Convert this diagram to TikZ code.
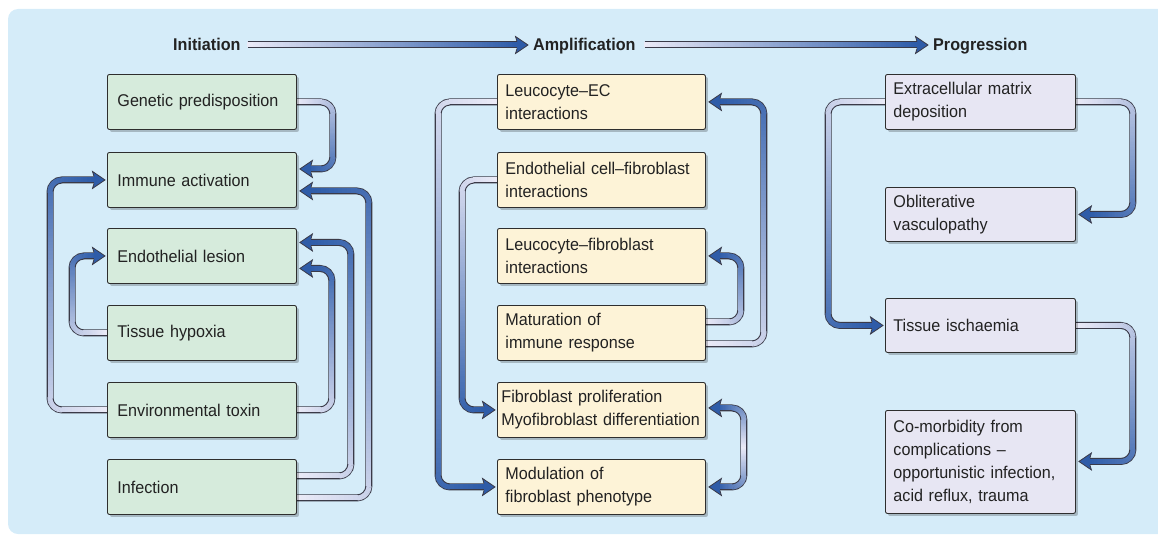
\documentclass[tikz,border=0pt]{standalone}
\usepackage{fontspec}
\setmainfont{Liberation Sans}[FakeStretch=0.95]
\usetikzlibrary{calc,shadows,decorations.markings}
\definecolor{bgblue}{HTML}{D5ECF9}
\definecolor{gfill}{HTML}{D6EBDC}
\definecolor{yfill}{HTML}{FDF3D7}
\definecolor{lfill}{HTML}{E7E6F3}
\definecolor{boxline}{HTML}{2E2E2E}
\definecolor{tubeline}{HTML}{3A3A48}
\definecolor{tubeblue}{HTML}{2B5AA8}
\definecolor{tubepale}{HTML}{EAEAF7}
\definecolor{ahfill}{HTML}{2F5CA8}
\definecolor{txt}{HTML}{222222}
\newcommand\boxfont{\fontsize{17pt}{23pt}\selectfont}
\newcommand\gradseg{%
  \pgfsetcornersarced{\pgfpointorigin}%
  \pgfsetlinewidth{0pt}%
  \pgfsetcolor{tubeblue!\gfr!tubepale}%
  \pgfpathrectangle{\pgfpoint{-0.8pt}{-2.5pt}}{\pgfpoint{1.6pt}{5pt}}%
  \pgfusepath{fill}}
\pgfdeclarelayer{bglayer}
\pgfdeclarelayer{tubelayer}
\pgfsetlayers{bglayer,tubelayer,main}
\tikzset{
  anybox/.style={draw=boxline, line width=0.9pt, rounded corners=2pt, anchor=north west,
    minimum height=55pt, align=left, font=\boxfont, text=txt,
    drop shadow={shadow xshift=2.5pt, shadow yshift=-2.5pt, opacity=0.22, fill=black}},
  gbox/.style={anybox, fill=gfill, inner xsep=10pt, text width=169pt},
  ybox/.style={anybox, fill=yfill, inner xsep=8pt, text width=192pt},
  lbox/.style={anybox, fill=lfill, inner xsep=8pt, text width=174pt},
  hdr/.style={font=\fontsize{17pt}{20pt}\selectfont\bfseries, text=txt, inner sep=0pt,
    text height=12pt, text depth=0pt, anchor=west},
  tube/.style={draw=tubeline, line width=7pt, rounded corners=12pt,
    postaction={decorate, decoration={markings,
      mark=between positions 0 and 1 step 1.2pt with {
        \pgfmathsetmacro\gq{\pgfkeysvalueof{/pgf/decoration/mark info/distance from start}/\pgfdecoratedpathlength}
        \pgfmathtruncatemacro\gfr{max(0,min(100,100*\gq))}
        \gradseg}}}},
  tubesym/.style={draw=tubeline, line width=7pt, rounded corners=12pt,
    postaction={decorate, decoration={markings,
      mark=between positions 0 and 1 step 1.2pt with {
        \pgfmathsetmacro\gq{\pgfkeysvalueof{/pgf/decoration/mark info/distance from start}/\pgfdecoratedpathlength}
        \pgfmathtruncatemacro\gfr{max(0,min(100,100*abs(2*\gq-1)))}
        \gradseg}}}},
  ahead/.pic={
    \fill[ahfill, sharp corners] (0pt,0pt) -- (12.5pt,-8.5pt) -- (11pt,-3.5pt) -- (11pt,3.5pt) -- (12.5pt,8.5pt) -- cycle;
    \draw[tubeline, sharp corners, line width=0.8pt, line join=miter] (11pt,-3.5pt) -- (12.5pt,-8.5pt) -- (0pt,0pt) -- (12.5pt,8.5pt) -- (11pt,3.5pt);
  }
}
\begin{document}
\begin{tikzpicture}[x=1pt,y=-1pt]
\useasboundingbox (0,0) rectangle (1158,535);
\clip (0,0) rectangle (1158,535);
\begin{pgfonlayer}{bglayer}
\fill[bgblue, rounded corners=10pt] (8,9) rectangle (1190,534);
\end{pgfonlayer}

% headers
\node[hdr] (init) at (173,45) {Initiation};
\node[hdr] (ampl) at (533,45) {Amplification};
\node[hdr] (prog) at (933,45) {Progression};

% left column
\node[gbox] (gen)  at (107,74)  {Genetic predisposition};
\node[gbox] (imm)  at (107,152) {Immune activation};
\node[gbox] (endo) at (107,228) {Endothelial lesion};
\node[gbox] (hyp)  at (107,305) {Tissue hypoxia};
\node[gbox] (env)  at (107,382) {Environmental toxin};
\node[gbox] (inf)  at (107,459) {Infection};

% middle column
\node[ybox] (lec) at (497,74)  {Leucocyte–EC\\interactions};
\node[ybox] (ecf) at (497,152) {Endothelial cell–fibroblast\\interactions};
\node[ybox] (lfi) at (497,228) {Leucocyte–fibroblast\\interactions};
\node[ybox] (mat) at (497,305) {Maturation of\\immune response};
\node[ybox, inner xsep=4pt, text width=200pt] (fib) at (497,382) {\mbox{Fibroblast proliferation}\\\mbox{Myofibroblast differentiation}};
\node[ybox] (mod) at (497,459) {Modulation of\\fibroblast phenotype};

% right column
\node[lbox] (ecm) at (885,74)  {Extracellular matrix\\deposition};
\node[lbox, minimum height=54pt] (obl) at (885,187) {Obliterative\\vasculopathy};
\node[lbox, minimum height=54pt] (isc) at (885,298) {Tissue ischaemia};
\node[lbox, minimum height=103pt] (com) at (885,410) {Co-morbidity from\\complications –\\opportunistic infection,\\acid reflux, trauma};

\begin{pgfonlayer}{tubelayer}
% header arrows
\draw[tube] ($(init.east)+(7,0)$) -- ($(ampl.west)+(-13,0)$);
\pic[rotate=180] at ($(ampl.west)+(-5,0)$) {ahead};
\draw[tube] ($(ampl.east)+(9,0)$) -- ($(prog.west)+(-13,0)$);
\pic[rotate=180] at ($(prog.west)+(-5,0)$) {ahead};

% left column connectors
\draw[tube] (gen.east) -| ($(imm.east)+(36,-11)$) -- ($(imm.east)+(11,-11)$);
\pic at ($(imm.east)+(3,-11)$) {ahead};
\draw[tube] (env.west) -| ($(imm.west)+(-57,0)$) -- ($(imm.west)+(-10,0)$);
\pic[rotate=180] at ($(imm.west)+(-2,0)$) {ahead};
\draw[tube] (hyp.west) -| ($(endo.west)+(-35,0)$) -- ($(endo.west)+(-10,0)$);
\pic[rotate=180] at ($(endo.west)+(-2,0)$) {ahead};
\draw[tube] (env.east) -| ($(endo.east)+(35,12.5)$) -- ($(endo.east)+(11,12.5)$);
\pic at ($(endo.east)+(3,12.5)$) {ahead};
\draw[tube] ($(inf.east)+(0,-11)$) -| ($(endo.east)+(54,-13.5)$) -- ($(endo.east)+(11,-13.5)$);
\pic at ($(endo.east)+(3,-13.5)$) {ahead};
\draw[tube] ($(inf.east)+(0,11)$) -| ($(imm.east)+(72,11)$) -- ($(imm.east)+(11,11)$);
\pic at ($(imm.east)+(3,11)$) {ahead};

% middle column connectors
\draw[tube] (lec.west) -| ($(mod.west)+(-59,0)$) -- ($(mod.west)+(-10,0)$);
\pic[rotate=180] at ($(mod.west)+(-2,0)$) {ahead};
\draw[tube] (ecf.west) -| ($(fib.west)+(-35,0)$) -- ($(fib.west)+(-10,0)$);
\pic[rotate=180] at ($(fib.west)+(-2,0)$) {ahead};
\draw[tube] ($(mat.east)+(0,-11)$) -| ($(lfi.east)+(35,0)$) -- ($(lfi.east)+(11,0)$);
\pic at ($(lfi.east)+(3,0)$) {ahead};
\draw[tube] ($(mat.east)+(0,11)$) -| ($(lec.east)+(58,0)$) -- ($(lec.east)+(11,0)$);
\pic at ($(lec.east)+(3,0)$) {ahead};
\draw[tubesym] ($(fib.east)+(11,-2)$) -| ($(mod.east)+(38,0)$) -- ($(mod.east)+(11,0)$);
\pic at ($(fib.east)+(3,-2)$) {ahead};
\pic at ($(mod.east)+(3,0)$) {ahead};

% right column connectors
\draw[tube] (ecm.east) -| ($(obl.east)+(57,0)$) -- ($(obl.east)+(11,0)$);
\pic at ($(obl.east)+(3,0)$) {ahead};
\draw[tube] (ecm.west) -| ($(isc.west)+(-57,0)$) -- ($(isc.west)+(-10,0)$);
\pic[rotate=180] at ($(isc.west)+(-2,0)$) {ahead};
\draw[tube] (isc.east) -| ($(com.east)+(57,-0.5)$) -- ($(com.east)+(11,-0.5)$);
\pic at ($(com.east)+(3,-0.5)$) {ahead};
\end{pgfonlayer}
\end{tikzpicture}
\end{document}
